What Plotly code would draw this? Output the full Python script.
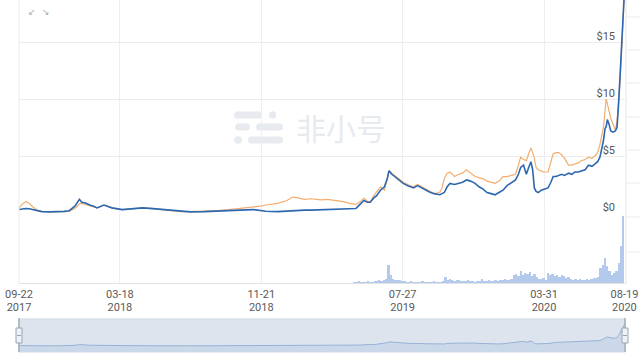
import plotly.graph_objects as go
import pandas as pd

# ---------------- data ----------------
price_dates = [
    "2017-09-22", "2017-09-28", "2017-10-04", "2017-10-10", "2017-10-16", "2017-10-24",
    "2017-11-01", "2017-11-15", "2017-11-27", "2017-12-10", "2017-12-19", "2017-12-29",
    "2018-01-06", "2018-01-10", "2018-01-16", "2018-01-24", "2018-01-31", "2018-02-06",
    "2018-02-18", "2018-02-26", "2018-03-04", "2018-03-22", "2018-04-10", "2018-04-27",
    "2018-05-15", "2018-06-02", "2018-06-20", "2018-07-01", "2018-07-20", "2018-08-13",
    "2018-09-05", "2018-09-25", "2018-10-15", "2018-11-07", "2018-11-20", "2018-11-29",
    "2018-12-20", "2019-01-05", "2019-01-15", "2019-01-22", "2019-02-05", "2019-02-16",
    "2019-03-05", "2019-03-17", "2019-04-01", "2019-04-14", "2019-04-25", "2019-05-06",
    "2019-05-14", "2019-05-20", "2019-05-26", "2019-05-31", "2019-06-06", "2019-06-11",
    "2019-06-18", "2019-06-25", "2019-06-30", "2019-07-03", "2019-07-08", "2019-07-13",
    "2019-07-20", "2019-07-28", "2019-08-05", "2019-08-15", "2019-08-22", "2019-08-29",
    "2019-09-05", "2019-09-12", "2019-09-20", "2019-09-30", "2019-10-04", "2019-10-08",
    "2019-10-13", "2019-10-18", "2019-10-26", "2019-11-02", "2019-11-09", "2019-11-16",
    "2019-11-23", "2019-12-01", "2019-12-08", "2019-12-15", "2019-12-22", "2019-12-29",
    "2020-01-05", "2020-01-12", "2020-01-19", "2020-01-26", "2020-02-02", "2020-02-10",
    "2020-02-15", "2020-02-19", "2020-02-24", "2020-02-29", "2020-03-04", "2020-03-08",
    "2020-03-11", "2020-03-14", "2020-03-17", "2020-03-21", "2020-03-26", "2020-03-31",
    "2020-04-07", "2020-04-12", "2020-04-16", "2020-04-21", "2020-04-26", "2020-05-01",
    "2020-05-06", "2020-05-13", "2020-05-19", "2020-05-24", "2020-05-30", "2020-06-05",
    "2020-06-11", "2020-06-17", "2020-06-23", "2020-06-28", "2020-07-03", "2020-07-07",
    "2020-07-10", "2020-07-13", "2020-07-16", "2020-07-18", "2020-07-20", "2020-07-23",
    "2020-07-26", "2020-07-30", "2020-08-03", "2020-08-06", "2020-08-09", "2020-08-11",
    "2020-08-13", "2020-08-15", "2020-08-17", "2020-08-19",
]

price_usd = [
    0.30, 0.35, 0.40, 0.38, 0.30, 0.18,
    0.12, 0.10, 0.10, 0.14, 0.20, 0.60,
    1.20, 0.95, 0.90, 0.70, 0.60, 0.45,
    0.70, 0.55, 0.45, 0.30, 0.38, 0.45,
    0.38, 0.30, 0.18, 0.12, 0.10, 0.12,
    0.15, 0.20, 0.25, 0.30, 0.20, 0.15,
    0.12, 0.18, 0.22, 0.25, 0.25, 0.25,
    0.28, 0.30, 0.32, 0.35, 0.38, 0.40,
    0.80, 1.10, 0.95, 0.95, 1.30, 1.50,
    2.00, 2.30, 3.00, 3.70, 3.40, 3.20,
    2.90, 2.60, 2.40, 2.20, 2.40, 2.20,
    2.00, 1.85, 1.70, 1.60, 1.70, 1.80,
    2.30, 2.60, 2.50, 2.60, 2.70, 2.90,
    2.80, 2.60, 2.30, 2.10, 1.80, 1.70,
    1.60, 1.80, 2.00, 2.40, 2.60, 2.90,
    3.40, 4.00, 4.20, 3.40, 4.00, 4.50,
    3.80, 2.20, 1.90, 1.80, 2.00, 2.10,
    2.20, 2.70, 3.20, 3.20, 3.30, 3.40,
    3.30, 3.50, 3.40, 3.60, 3.60, 3.70,
    3.80, 4.20, 4.10, 4.30, 4.50, 4.90,
    5.60, 6.30, 7.40, 7.60, 8.20, 7.80,
    7.20, 7.10, 7.20, 7.50, 9.80, 11.50,
    13.20, 15.00, 17.20, 19.50,
]

price_alt = [
    0.45, 0.80, 1.00, 0.85, 0.55, 0.25,
    0.14, 0.10, 0.10, 0.12, 0.15, 0.40,
    0.80, 0.85, 0.75, 0.65, 0.55, 0.45,
    0.70, 0.55, 0.45, 0.30, 0.38, 0.45,
    0.38, 0.30, 0.18, 0.12, 0.12, 0.15,
    0.22, 0.30, 0.40, 0.50, 0.60, 0.70,
    0.85, 1.10, 1.40, 1.35, 1.20, 1.25,
    1.15, 1.20, 1.10, 1.00, 0.85, 0.75,
    1.00, 1.30, 1.05, 0.95, 1.50, 1.80,
    2.30, 2.00, 3.00, 3.70, 3.50, 3.30,
    3.00, 2.70, 2.50, 2.30, 2.50, 2.30,
    2.10, 1.90, 1.70, 1.80, 2.20, 3.00,
    3.50, 3.60, 3.20, 3.40, 3.50, 3.80,
    3.50, 3.20, 3.10, 3.00, 2.80, 2.70,
    2.60, 2.80, 3.20, 3.20, 3.30, 3.40,
    4.20, 4.90, 4.70, 4.60, 5.20, 5.70,
    5.30, 4.80, 4.00, 3.80, 3.70, 3.60,
    3.60, 4.40, 5.20, 5.30, 5.30, 5.10,
    4.80, 4.20, 4.20, 4.30, 4.40, 4.60,
    4.70, 4.90, 4.80, 5.00, 5.30, 6.00,
    6.80, 7.50, 9.00, 10.00, 9.60, 9.00,
    8.30, 7.80, 7.30, 8.00, 9.80, 11.40,
    13.10, 14.90, 17.10, 19.40,
]

volume_start = "2019-05-03"
volume = [
    1, 1, 2, 1, 1, 1, 2, 1, 1, 2, 2,
    3,
    2, 3, 4,
    18,
    8,
    4, 3, 3, 3,
    2, 2, 1, 1, 2, 1, 1, 1, 1, 2, 1, 1, 1, 1, 2, 1, 1, 1, 2,
    6,
    3, 4, 3, 2, 3, 3, 2,
    2, 2, 3, 2, 2, 1, 2, 2,
    4,
    2, 2, 3, 2, 2, 3, 2,
    3, 3, 4, 3, 3, 4,
    8,
    9, 7, 12, 8, 10, 9, 11, 7, 9, 6,
    4, 4, 5, 3,
    10,
    8, 9, 7, 8, 6, 8, 7, 5, 6,
    4, 3, 4, 3, 4, 3, 3, 4, 3, 4,
    5, 5, 6,
    15, 18, 25, 17, 12, 8, 10, 12, 20, 38, 68,
]
volume_dates = pd.date_range(volume_start, periods=len(volume), freq="4D")

tick_dates = ["2017-09-22", "2018-03-18", "2018-11-21", "2019-07-27", "2020-03-31", "2020-08-19"]
tick_month_day = ["09-22", "03-18", "11-21", "07-27", "03-31", "08-19"]
tick_year = ["2017", "2018", "2018", "2019", "2020", "2020"]
price_ticks = [0, 5, 10, 15]
price_tick_text = ["$0", "$5", "$10", "$15"]

x_range = ["2017-09-22", "2020-08-20"]

# ---------------- layout helpers ----------------
W, H = 640, 364


def px(x):
    return x / W


def py(y):
    return 1 - y / H


X0, X1 = 19, 625
FONT = "Roboto, 'Noto Sans', sans-serif"
TICKFONT = dict(family=FONT, size=11, color="#5a5a5a")

fig = go.Figure()

fig.add_trace(go.Scatter(x=price_dates, y=price_alt, mode="lines", xaxis="x", yaxis="y",
                         line=dict(color="#f3ad6f", width=1.2), hoverinfo="skip"))
fig.add_trace(go.Scatter(x=price_dates, y=price_usd, mode="lines", xaxis="x", yaxis="y",
                         line=dict(color="#2d67b0", width=1.6), hoverinfo="skip"))
fig.add_trace(go.Bar(x=volume_dates, y=volume, xaxis="x", yaxis="y2",
                     marker=dict(color="#b3caec", line=dict(width=0)), hoverinfo="skip"))
fig.add_trace(go.Scatter(x=price_dates, y=price_usd, mode="lines", xaxis="x2", yaxis="y3",
                         line=dict(color="#97b2d8", width=1), fill="tozeroy",
                         fillcolor="#cbd8ea", hoverinfo="skip"))
# carrier trace so that the year-label axis is drawn (no visible marks)
fig.add_trace(go.Scatter(x=tick_dates, y=[None] * len(tick_dates), mode="lines",
                         xaxis="x3", yaxis="y", hoverinfo="skip", showlegend=False))

shapes = []
# slider background
shapes.append(dict(type="rect", xref="x2 domain", yref="y3 domain", x0=0, x1=1, y0=0, y1=1,
                   fillcolor="#dde4ee", line=dict(color="#d0d8e3", width=1), layer="below"))
shapes.append(dict(type="rect", xref="x2 domain", yref="y3", x0=0, x1=1, y0=-5.5, y1=0,
                   fillcolor="#cbd8ea", line=dict(width=0), layer="below"))
# slider handles
for hx in (X0, X1):
    shapes.append(dict(type="line", xref="paper", yref="paper", x0=px(hx), x1=px(hx),
                       y0=py(352), y1=py(318), line=dict(color="#a3adba", width=1.5)))
    shapes.append(dict(type="rect", xref="paper", yref="paper", x0=px(hx - 3), x1=px(hx + 3),
                       y0=py(343), y1=py(328), fillcolor="#eef1f5",
                       line=dict(color="#9aa5b3", width=1)))
    shapes.append(dict(type="line", xref="paper", yref="paper", x0=px(hx - 2), x1=px(hx + 2),
                       y0=py(335.5), y1=py(335.5), line=dict(color="#9aa5b3", width=1)))
# right-edge partial grid
shapes.append(dict(type="line", xref="paper", yref="paper", x0=px(X1 + 1), x1=px(X1 + 1),
                   y0=py(284), y1=py(0), line=dict(color="#e6e6e6", width=1)))
for gy in (17, 50, 83, 117, 150, 183, 217, 252):
    shapes.append(dict(type="line", xref="paper", yref="paper", x0=px(X1 + 1), x1=1,
                       y0=py(gy), y1=py(gy), line=dict(color="#ebebeb", width=1)))
# left border line
shapes.append(dict(type="line", xref="paper", yref="paper", x0=px(X0), x1=px(X0),
                   y0=py(283), y1=py(0), line=dict(color="#eaeaea", width=1)))

# watermark logo (pills)
WM = "#e7eaef"


def pill(xa, xb, yc, h):
    r = h / 2
    out = [dict(type="rect", xref="paper", yref="paper", x0=px(xa + r), x1=px(xb - r),
                y0=py(yc + r), y1=py(yc - r), fillcolor=WM, line=dict(width=0), layer="below")]
    for cx in (xa + r, xb - r):
        out.append(dict(type="circle", xref="paper", yref="paper", x0=px(cx - r), x1=px(cx + r),
                        y0=py(yc + r), y1=py(yc - r), fillcolor=WM, line=dict(width=0), layer="below"))
    return out


shapes += pill(234, 262, 115, 7)
shapes += pill(269, 276, 115, 7)
shapes += pill(235, 250, 127, 7)
shapes += pill(256, 283, 127, 7)
shapes += pill(234, 242, 140, 7)
shapes += pill(248, 283, 140, 7)

annotations = [
    dict(text="非小号", xref="paper", yref="paper", x=px(341), y=py(127), showarrow=False,
         font=dict(family="Noto Sans CJK SC", size=30, color=WM), xanchor="center", yanchor="middle"),
    dict(text="↙", xref="paper", yref="paper", x=px(26), y=py(5), showarrow=False,
         font=dict(family="DejaVu Sans", size=9, color="#aaaaaa")),
    dict(text="↘", xref="paper", yref="paper", x=px(40), y=py(5), showarrow=False,
         font=dict(family="DejaVu Sans", size=9, color="#aaaaaa")),
]

fig.update_layout(
    width=W, height=H, autosize=False,
    margin=dict(l=0, r=0, t=0, b=0, pad=0, autoexpand=False),
    paper_bgcolor="white", plot_bgcolor="rgba(0,0,0,0)",
    showlegend=False, bargap=0,
    font=dict(family=FONT, size=11, color="#555555"),
    xaxis=dict(domain=[px(X0), px(X1)], range=x_range, type="date", anchor="y2",
               tickmode="array", tickvals=tick_dates, ticktext=tick_month_day,
               showgrid=True, gridcolor="#eeeeee", gridwidth=1,
               showline=True, linecolor="#e2e2e2", ticks="", zeroline=False,
               tickfont=TICKFONT, ticklabelstandoff=1,
               ticklabeloverflow="allow", automargin=False),
    xaxis3=dict(domain=[px(X0), px(X1)], range=x_range, type="date", anchor="free",
                overlaying="x", position=py(299), side="bottom",
                tickmode="array", tickvals=tick_dates, ticktext=tick_year,
                showgrid=False, showline=False, ticks="", zeroline=False,
                tickfont=TICKFONT, ticklabeloverflow="allow", automargin=False),
    yaxis=dict(domain=[py(213), 1], range=[0, 18.7], anchor="x", side="right",
               tickmode="array", tickvals=price_ticks, ticktext=price_tick_text,
               ticklabelposition="inside", ticklabelstandoff=7, ticklabelshift=-6,
               ticklabeloverflow="allow", automargin=False,
               showgrid=True, gridcolor="#ececec", zeroline=False, showline=False,
               ticks="", tickfont=dict(family=FONT, size=11, color="#555555")),
    yaxis2=dict(domain=[py(283), py(214)], range=[0, 70], anchor="x",
                visible=False, showgrid=False, zeroline=False, automargin=False),
    xaxis2=dict(domain=[px(X0), px(X1)], range=x_range, type="date", anchor="y3",
                visible=False, showgrid=False, automargin=False),
    yaxis3=dict(domain=[py(352), py(319)], range=[-5.5, 24.5], anchor="x2",
                visible=False, showgrid=False, zeroline=False, automargin=False),
    shapes=shapes,
    annotations=annotations,
)

fig.write_html("out.html", config={"displayModeBar": False},
               post_script="document.body.style.margin='0';")
